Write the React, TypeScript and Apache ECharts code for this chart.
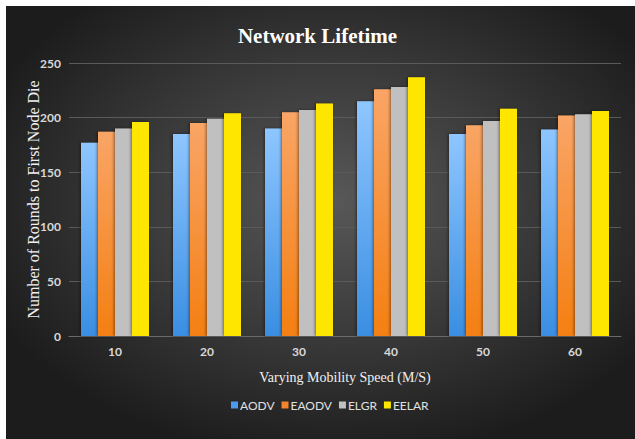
import React, { useEffect, useRef } from "react";
import * as echarts from "echarts";

const categories = ["10", "20", "30", "40", "50", "60"];
const seriesNames = ["AODV", "EAODV", "ELGR", "EELAR"];
const aodv = [177, 185, 190, 215, 185, 189];
const eaodv = [187, 195, 205, 226, 193, 202];
const elgr = [190, 199, 207, 228, 197, 203];
const eelar = [196, 204, 213, 237, 208, 206];
const yTicks = [0, 50, 100, 150, 200, 250];

const grad = (top: string, bottom: string) =>
  new echarts.graphic.LinearGradient(0, 0, 0, 1, [
    { offset: 0, color: top },
    { offset: 1, color: bottom },
  ]);

export default function App() {
  const ref = useRef<HTMLDivElement>(null);
  useEffect(() => {
    document.body.style.margin = "0";
    const chart = echarts.init(ref.current!, null, { renderer: "svg" });
    const colors = [
      grad("#8ec6ff", "#3a8ee2"),
      grad("#f9a566", "#f47f12"),
      "#c0c0c0",
      "#ffe600",
    ];
    const legendColors = ["#4a9bf0", "#f5842a", "#c0c0c0", "#ffe600"];
    const data = [aodv, eaodv, elgr, eelar];
    chart.setOption({
      animation: false,
      graphic: [
        {
          type: "rect",
          z: -10,
          silent: true,
          shape: { x: 6, y: 6, width: 629, height: 433 },
          style: {
            fill: new echarts.graphic.RadialGradient(0.52, 0.45, 0.6, [
              { offset: 0, color: "#585858" },
              { offset: 0.55, color: "#383838" },
              { offset: 1, color: "#1c1c1c" },
            ]),
          },
        },
      ],
      backgroundColor: "#ffffff",
      title: {
        text: "Network Lifetime",
        left: "center",
        top: 20,
        textStyle: {
          color: "#ffffff",
          fontFamily: "Liberation Serif",
          fontWeight: "bold",
          fontSize: 21,
        },
      },
      legend: {
        bottom: 23,
        left: 226,
        itemWidth: 7,
        itemHeight: 7,
        itemGap: 7,
        icon: "rect",
        data: seriesNames.map((n, i) => ({
          name: n,
          itemStyle: { color: legendColors[i] },
        })),
        textStyle: {
          color: "#e0e0e0",
          fontFamily: "Lato",
          fontSize: 12,
          padding: [0, 0, 0, -3],
        },
      },
      grid: { left: 69, right: 14, top: 63, bottom: 103 },
      xAxis: {
        type: "category",
        data: categories,
        name: "Varying Mobility Speed (M/S)",
        nameLocation: "middle",
        nameGap: 34,
        nameMoveOverlap: false,
        nameTextStyle: {
          color: "#f0f0f0",
          fontFamily: "Liberation Serif",
          fontSize: 14,
        },
        axisLine: { lineStyle: { color: "#6a6a6a", width: 1 } },
        axisTick: { show: false },
        axisLabel: {
          color: "#d8d8d8",
          fontFamily: "Lato",
          fontWeight: "bold",
          fontSize: 12,
          margin: 9,
        },
      },
      yAxis: {
        type: "value",
        min: 0,
        max: 250,
        interval: 50,
        name: "Number of Rounds to First Node Die",
        nameLocation: "middle",
        nameGap: 28,
        nameMoveOverlap: false,
        nameTextStyle: {
          color: "#f0f0f0",
          fontFamily: "Liberation Serif",
          fontSize: 16,
        },
        axisLine: { show: false },
        axisTick: { show: false },
        splitLine: { lineStyle: { color: "#5a5a5a", width: 1 } },
        axisLabel: {
          color: "#d8d8d8",
          fontFamily: "Lato",
          fontWeight: "bold",
          fontSize: 12,
          margin: 8,
          formatter: (v: number) => (yTicks.includes(v) ? String(v) : ""),
        },
      },
      series: seriesNames.map((n, i) => ({
        name: n,
        type: "bar",
        data: data[i],
        barWidth: 17,
        barGap: "0%",
        itemStyle: {
          color: colors[i],
          shadowColor: "rgba(0,0,0,0.45)",
          shadowBlur: 3,
          shadowOffsetX: -1,
        },
      })),
    });
    return () => chart.dispose();
  }, []);
  return <div ref={ref} style={{ width: 635, height: 439 }} />;
}
